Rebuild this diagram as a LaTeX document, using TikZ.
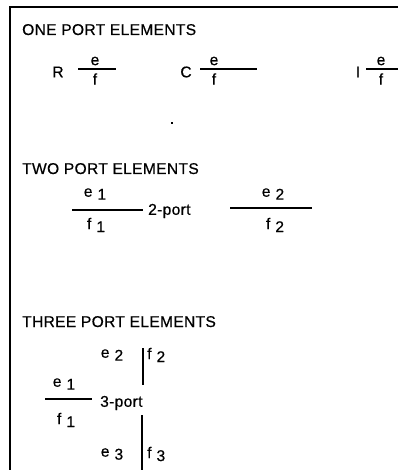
\documentclass[tikz,border=0pt]{standalone}
\usepackage{fontspec}
\setmainfont{Liberation Sans}
\newfontfamily\scanfont[FakeBold=0.5, LetterSpace=2]{Liberation Sans}
\usetikzlibrary{positioning}

\tikzset{
  heading/.style={anchor=base west, inner sep=0pt, font=\scanfont\fontsize{15.6}{18}\selectfont},
  lbl/.style={inner sep=0pt, font=\scanfont\fontsize{15.6}{18}\selectfont},
  bond/.style={line width=1.7pt},
  stroke/.style={line width=2.6pt},
}
\newcommand{\portvar}[2]{#1\hspace{5pt}\raisebox{-3pt}{#2}}

\begin{document}
\begin{tikzpicture}[x=1pt,y=-1pt]
    \useasboundingbox (0,0) rectangle (397,470);
    \draw[line width=1.4pt] (10,480) -- (10,7) -- (410,7);

    % one port elements
    \node[heading] (one) at (22,35) {ONE PORT ELEMENTS};
    \coordinate (Ra) at (78,69);
    \coordinate (Rb) at (116,69);
    \draw[bond] (Ra) -- (Rb);
    \node[lbl] (R) at (58,72) {R};
    \node[lbl] (Re) at (95,61) {e};
    \node[lbl] (Rf) at (95,79) {f};

    \coordinate (Ca) at (200,69);
    \coordinate (Cb) at (257,69);
    \draw[bond] (Ca) -- (Cb);
    \node[lbl] (C) at (186,72) {C};
    \node[lbl] (Ce) at (214,61) {e};
    \node[lbl] (Cf) at (214,79) {f};

    \coordinate (Ia) at (366,69);
    \coordinate (Ib) at (400,69);
    \draw[bond] (Ia) -- (Ib);
    \node[lbl] (I) at (358,72) {I};
    \node[lbl] (Ie) at (381,61) {e};
    \node[lbl] (If) at (381,79) {f};

    \fill (171,122) rectangle (173,124);

    % two port elements
    \node[heading] (two) at (22,174) {TWO PORT ELEMENTS};
    \coordinate (Aa) at (72,210);
    \coordinate (Ab) at (143,210);
    \draw[bond] (Aa) -- (Ab);
    \node[lbl] (Ae) at (95,194) {\portvar{e}{1}};
    \node[lbl] (Af) at (96,225) {\portvar{f}{1}};
    \node[lbl, anchor=west] (twoport) at (148,211) {2-port};
    \coordinate (Ba) at (230,208);
    \coordinate (Bb) at (312,208);
    \draw[bond] (Ba) -- (Bb);
    \node[lbl] (Be) at (273,194) {\portvar{e}{2}};
    \node[lbl] (Bf) at (275,225) {\portvar{f}{2}};

    % three port elements
    \node[heading] (three) at (22,327) {THREE PORT ELEMENTS};
    \coordinate (Ta) at (45,399);
    \coordinate (Tb) at (92,399);
    \draw[bond] (Ta) -- (Tb);
    \node[lbl] (Te) at (64,384) {\portvar{e}{1}};
    \node[lbl] (Tf) at (66,420) {\portvar{f}{1}};
    \node[lbl, anchor=west] (threeport) at (100,403) {3-port};
    \coordinate (Ua) at (143,348);
    \coordinate (Ub) at (143,385);
    \draw[stroke] (Ua) -- (Ub);
    \node[lbl] (Ue) at (112,355) {\portvar{e}{2}};
    \node[lbl, anchor=west] (Uf) at (147,355) {\portvar{f}{2}};
    \coordinate (Va) at (142,415);
    \coordinate (Vb) at (142,475);
    \draw[stroke] (Va) -- (Vb);
    \node[lbl] (Ve) at (112,454) {\portvar{e}{3}};
    \node[lbl, anchor=west] (Vf) at (147,454) {\portvar{f}{3}};
\end{tikzpicture}
\end{document}
